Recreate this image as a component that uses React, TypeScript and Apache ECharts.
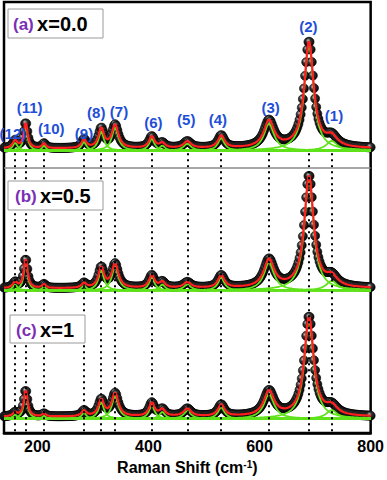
import React, { useEffect, useRef } from "react";
import * as echarts from "echarts";

// Peak positions (cm-1); 425 is an unlabelled shoulder of (6)
const peakCenters = [160, 179, 212, 284, 315, 340, 406, 425, 470, 531, 617, 689, 730];
const peakLabels = ["(12)", "(11)", "(10)", "(9)", "(8)", "(7)", "(6)", "", "(5)", "(4)", "(3)", "(2)", "(1)"];
// Half widths at half maximum (cm-1)
const peakHalfWidths = [5, 4, 4, 5, 6, 7, 6, 6, 8, 7, 11, 10, 12];
// Peak heights (arb. units) for each composition
const heightsA = [8, 27, 5, 9, 20, 24, 12, 5, 7, 13, 28, 111, 10];
const heightsB = [6, 31, 4, 5, 21, 25, 13, 6, 6, 13, 29, 117, 10];
const heightsC = [4, 28, 3, 6, 17, 24, 14, 7, 8, 12, 26, 104, 9];
const backgroundLevel = 2;
const panelTags = ["(a)", "(b)", "(c)"];
const compositions = ["x=0.0", "x=0.5", "x=1"];
const xTicks = [200, 400, 600, 800];

// layout (y-axis units == pixels)
const panelBaselines = [295, 149, 15];
const labelAnchors: [number, number][] = [
  [156, 313], [186, 340], [225, 318], [284, 313], [306, 335], [347, 336], [409, 324], [0, 0],
  [468, 327], [525, 327], [620, 340], [688, 424], [734, 332],
];

const FONT = "'Liberation Sans', Arial, sans-serif";
const GREEN = "#5fe21a";
const RED = "#ff1f1f";
const BLUE = "#1f4fd8";
const PURPLE = "#7a2fb5";

const shifts: number[] = [];
for (let s = 140; s <= 800; s += 2) shifts.push(s);

const lor = (x: number, c: number, w: number, h: number) => h / (1 + ((x - c) / w) ** 2);

export default function App() {
  const ref = useRef<HTMLDivElement>(null);
  useEffect(() => {
    if (!ref.current) return;
    const chart = echarts.init(ref.current, null, { renderer: "svg" });
    const heightSets = [heightsA, heightsB, heightsC];
    const series: any[] = [];
    const ball = {
      type: "radial", x: 0.35, y: 0.35, r: 0.75,
      colorStops: [
        { offset: 0, color: "#c8c8c8" },
        { offset: 0.35, color: "#333" },
        { offset: 1, color: "#000" },
      ],
    };
    heightSets.forEach((hs, p) => {
      const base = panelBaselines[p];
      const total = (x: number) =>
        backgroundLevel + peakCenters.reduce((acc, c, i) => acc + lor(x, c, peakHalfWidths[i], hs[i]), 0);
      const sc: any = {
        type: "scatter",
        data: shifts.map((x) => [x, base + total(x)]),
        symbolSize: 9,
        itemStyle: { color: ball, borderColor: "#000", borderWidth: 0.6, opacity: 1 },
        silent: true,
        z: 1,
      };
      if (p === 0) {
        const dl = peakCenters
          .filter((_, i) => peakLabels[i] !== "")
          .map((c) => [{ coord: [c, 292] }, { coord: [c, 0] }]);
        sc.markLine = {
          silent: true,
          symbol: "none",
          label: { show: false },
          lineStyle: { color: "#000", width: 2, type: [2, 4] },
          data: [
            ...dl,
            { yAxis: 277, lineStyle: { color: "#8a8a8a", width: 1.5, type: "solid" } },
          ],
        };
      }
      series.push(sc);
      peakCenters.forEach((c, i) => {
        series.push({
          type: "line",
          data: shifts.map((x) => [x, base + lor(x, c, peakHalfWidths[i], hs[i])]),
          showSymbol: false,
          lineStyle: { color: GREEN, width: 1.8 },
          silent: true,
          z: 2,
        });
      });
      series.push({
        type: "line",
        data: shifts.map((x) => [x, base + total(x)]),
        showSymbol: false,
        lineStyle: { color: RED, width: 2.2 },
        silent: true,
        z: 3,
      });
    });

    const boxes = [
      { x: 8, y: 9, w: 95, h: 29, ty: 24, tx: 13 },
      { x: 8, y: 181, w: 95, h: 29, ty: 196, tx: 15 },
      { x: 10, y: 315, w: 75, h: 28, ty: 330, tx: 16 },
    ];
    const graphic: any[] = [];
    boxes.forEach((b, i) => {
      graphic.push({
        type: "rect",
        shape: { x: b.x, y: b.y, width: b.w, height: b.h },
        style: { fill: "#fff", stroke: "#9a9a9a", lineWidth: 1 },
        z: 10,
      });
      graphic.push({
        type: "text",
        x: b.tx,
        y: b.ty,
        z: 11,
        style: {
          text: `{p|${panelTags[i]}} {x|${compositions[i]}}`,
          verticalAlign: "middle",
          rich: {
            p: { fill: PURPLE, fontSize: 17, fontWeight: "bold", fontFamily: FONT },
            x: { fill: "#000", fontSize: 20, fontWeight: "bold", fontFamily: FONT },
          },
        },
      });
    });

    chart.setOption({
      animation: false,
      grid: { left: 4, right: 13, top: 2, bottom: 28, show: true, borderColor: "#000", borderWidth: 2.5 },
      xAxis: {
        type: "value",
        min: 140,
        max: 800,
        axisLine: { show: true, lineStyle: { color: "#000", width: 2.5 } },
        axisTick: { show: false },
        splitLine: { show: false },
        axisLabel: {
          customValues: xTicks,
          color: "#000",
          fontFamily: FONT,
          fontWeight: "bold",
          fontSize: 16,
          margin: 5,
        },
        name: "Raman Shift (cm{s|-1})",
        nameLocation: "middle",
        nameGap: 24,
        nameTextStyle: {
          color: "#000",
          fontFamily: FONT,
          fontWeight: "bold",
          fontSize: 16,
          rich: { s: { fontSize: 10, fontWeight: "bold", fontFamily: FONT, verticalAlign: "top", color: "#000" } },
        },
      },
      yAxis: { type: "value", min: 0, max: 450, show: false },
      series,
    });

    // peak labels placed through the axes' own scales
    labelAnchors.forEach((a, i) => {
      if (!peakLabels[i]) return;
      const pt = chart.convertToPixel({ gridIndex: 0 }, a) as number[];
      graphic.push({
        type: "text",
        x: pt[0],
        y: pt[1],
        z: 12,
        style: {
          text: peakLabels[i],
          fill: BLUE,
          align: "center",
          verticalAlign: "middle",
          fontSize: 15,
          fontWeight: "bold",
          fontFamily: FONT,
        },
      });
    });
    chart.setOption({ graphic });
    return () => chart.dispose();
  }, []);
  return <div ref={ref} style={{ position: "absolute", left: 0, top: 0, width: 387, height: 480 }} />;
}
